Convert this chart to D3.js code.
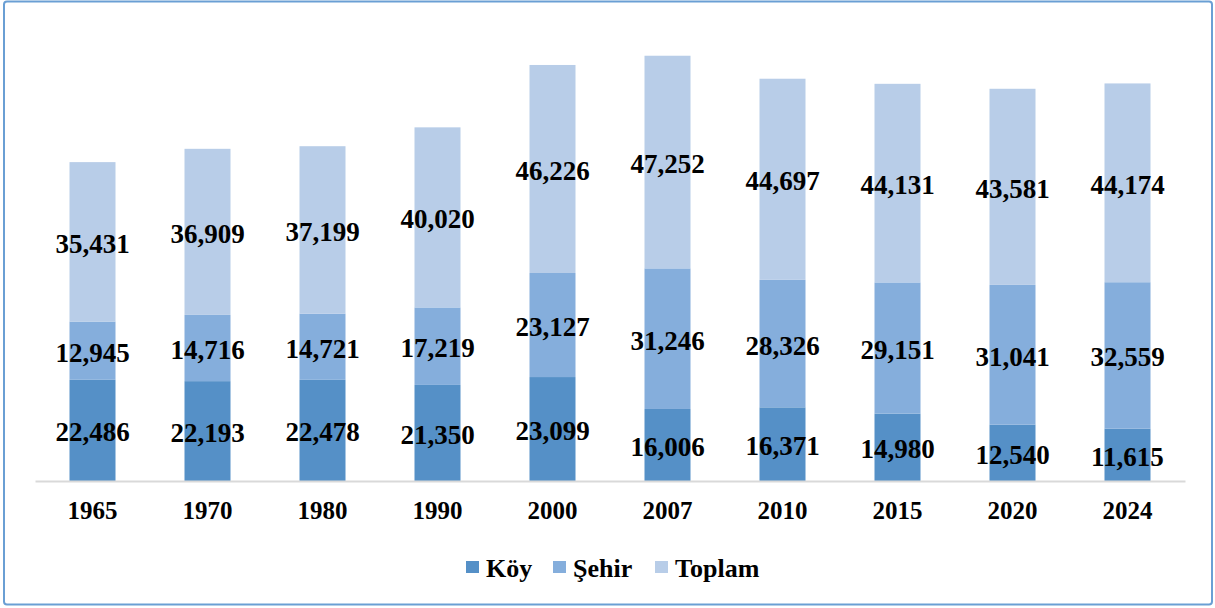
<!DOCTYPE html>
<html><head><meta charset="utf-8">
<script src="https://cdn.jsdelivr.net/npm/d3@7"></script>
<style>body{margin:0;background:#fff}svg{display:block}</style>
</head><body>
<svg id="c" width="1215" height="608"></svg>
<script>
const years = ["1965","1970","1980","1990","2000","2007","2010","2015","2020","2024"];
const koy = [22486,22193,22478,21350,23099,16006,16371,14980,12540,11615];
const sehir = [12945,14716,14721,17219,23127,31246,28326,29151,31041,32559];
const toplam = [35431,36909,37199,40020,46226,47252,44697,44131,43581,44174];
const seriesNames = ["Köy","Şehir","Toplam"];
const colors = ["#5590C7","#85AEDC","#B8CDE8"];

const svg = d3.select("#c");
svg.append("rect").attr("x",4).attr("y",1.5).attr("width",1208).attr("height",603)
  .attr("rx",3).attr("fill","#fff").attr("stroke","#6A9FD4").attr("stroke-width",2);

const x = d3.scaleBand().domain(years).range([35,1185]).paddingInner(0.6).paddingOuter(0.3);
const y = d3.scaleLinear().domain([0,100000]).range([481,31]);

const rows = years.map((yr,i)=>({year:yr,"Köy":koy[i],"Şehir":sehir[i],"Toplam":toplam[i]}));
const stack = d3.stack().keys(seriesNames)(rows);

const g = svg.append("g");
stack.forEach((s,si)=>{
  g.selectAll(null).data(s).enter().append("rect")
    .attr("x",d=>x(d.data.year)).attr("width",x.bandwidth())
    .attr("y",d=>y(d[1])).attr("height",d=>y(d[0])-y(d[1]))
    .attr("fill",colors[si]);
});
const fmt = d3.format(",");
stack.forEach((s,si)=>{
  g.selectAll(null).data(s).enter().append("text")
    .attr("x",d=>x(d.data.year)+x.bandwidth()/2)
    .attr("y",d=>(y(d[0])+y(d[1]))/2+11)
    .attr("text-anchor","middle")
    .attr("font-family","'Liberation Serif','Times New Roman',serif")
    .attr("font-weight","bold").attr("font-size",27).attr("fill","#000")
    .text(d=>fmt(d[1]-d[0]));
});

const ax = svg.append("g").attr("transform","translate(0,481)")
  .call(d3.axisBottom(x).tickSize(0).tickPadding(20));
ax.select(".domain").attr("stroke","#D9D9D9").attr("stroke-width",2);
ax.selectAll("text").attr("font-family","'Liberation Serif','Times New Roman',serif")
  .attr("font-weight","bold").attr("font-size",25).attr("fill","#000");

const legX = [466,553,655];
const leg = svg.append("g");
seriesNames.forEach((n,i)=>{
  leg.append("rect").attr("x",legX[i]).attr("y",561).attr("width",13).attr("height",12).attr("fill",colors[i]);
  leg.append("text").attr("x",legX[i]+20).attr("y",577)
    .attr("font-family","'Liberation Serif','Times New Roman',serif")
    .attr("font-weight","bold").attr("font-size",26).attr("fill","#000").text(n);
});
</script>
</body></html>
